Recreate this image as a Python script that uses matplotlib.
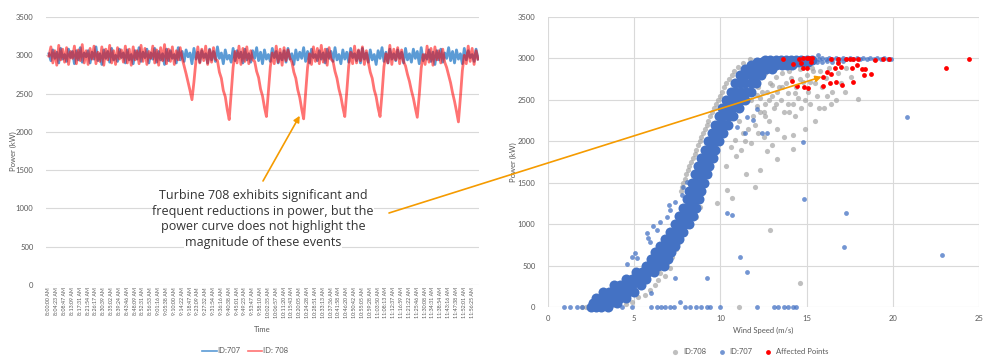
import matplotlib.pyplot as plt
import numpy as np

plt.rcParams["font.family"] = ["Lato", "DejaVu Sans"]

TXT = "#595959"
GRID = "#D9D9D9"
ORANGE = "#F59B00"

# ---------------- left chart: power time series ----------------
TIME_LABELS = [
    "8:00:00 AM", "8:04:23 AM", "8:08:47 AM", "8:13:09 AM", "8:17:31 AM", "8:21:54 AM",
    "8:26:17 AM", "8:30:39 AM", "8:35:02 AM", "8:39:24 AM", "8:43:46 AM", "8:48:09 AM",
    "8:52:31 AM", "8:56:53 AM", "9:01:16 AM", "9:05:38 AM", "9:10:00 AM", "9:14:22 AM",
    "9:18:47 AM", "9:23:09 AM", "9:27:32 AM", "9:31:54 AM", "9:36:16 AM", "9:40:38 AM",
    "9:45:01 AM", "9:49:23 AM", "9:53:47 AM", "9:58:10 AM", "10:02:35 AM", "10:06:57 AM",
    "10:11:20 AM", "10:15:43 AM", "10:20:05 AM", "10:24:28 AM", "10:28:51 AM", "10:33:13 AM",
    "10:37:36 AM", "10:41:58 AM", "10:46:20 AM", "10:50:42 AM", "10:55:05 AM", "10:59:28 AM",
    "11:03:50 AM", "11:08:13 AM", "11:12:37 AM", "11:16:59 AM", "11:21:22 AM", "11:25:46 AM",
    "11:30:08 AM", "11:34:31 AM", "11:38:54 AM", "11:43:16 AM", "11:47:38 AM", "11:52:01 AM",
    "11:56:25 AM",
]

ID707_KW = [
    3020, 2930, 3070, 2960, 3040, 2900, 3090, 2950, 3010, 2920, 3080, 2970, 3050, 2890, 3060, 2940, 3100, 2910, 3030, 2980,
    3060, 2900, 3040, 2950, 3110, 2930, 3020, 2880, 3070, 2960, 3050, 2910, 3090, 2940, 3000, 2920, 3080, 2970, 3030, 2900,
    3070, 2940, 3010, 2890, 3060, 2950, 3100, 2920, 3040, 2970, 3080, 2900, 3030, 2950, 3090, 2910, 3050, 2940, 3020, 2880,
    3080, 2930, 3060, 2960, 3010, 2900, 3100, 2940, 3050, 2920, 3070, 2980, 3030, 2890, 3090, 2950, 3040, 2910, 3060, 2970,
    3020, 2900, 3080, 2940, 3050, 2920, 3110, 2960, 3030, 2890, 3070, 2950, 3000, 2910, 3090, 2930, 3060, 2970, 3040, 2900,
    3080, 2940, 3020, 2910, 3060, 2960, 3100, 2930, 3040, 2890, 3070, 2950, 3010, 2920, 3090, 2970, 3050, 2900, 3030, 2940,
    3060, 2910, 3090, 2950, 3020, 2880, 3070, 2940, 3040, 2960, 3100, 2920, 3050, 2900, 3080, 2970, 3010, 2930, 3060, 2950,
    3030, 2900, 3080, 2960, 3050, 2920, 3100, 2940, 3010, 2890, 3070, 2950, 3040, 2910, 3090, 2970, 3020, 2930, 3060, 2900,
    3090, 2950, 3030, 2910, 3070, 2940, 3010, 2880, 3060, 2960, 3100, 2920, 3040, 2900, 3080, 2950, 3020, 2930, 3070, 2960,
    3040, 2900, 3090, 2940, 3020, 2910, 3080, 2960, 3050, 2890, 3100, 2930, 3010, 2950, 3070, 2920, 3040, 2880, 3060, 2940,
    3080, 2910, 3030, 2960, 3100, 2930, 3050, 2900, 3070, 2950, 3020, 2890, 3090, 2940, 3060, 2970, 3010, 2920, 3080, 2950,
]

ID708_KW = [
    2990, 3110, 2900, 3060, 2870, 3130, 2940, 3080, 2910, 3100, 2880, 3050, 2960, 3120, 2890, 3070, 2930, 3140, 2900, 3060,
    2880, 3090, 2950, 3120, 2890, 3040, 2920, 3110, 2870, 3080, 2940, 3130, 2900, 3060, 2880, 3100, 2950, 3070, 2910, 3120,
    2900, 3080, 2870, 3110, 2940, 3060, 2890, 3130, 2920, 3090, 2880, 3050, 2960, 3120, 2900, 3070, 2870, 3100, 2930, 3140,
    2890, 3080, 2920, 3110, 2880, 3060, 2940, 3100, 2960, 2860, 2760, 2650, 2540, 2420, 2650, 2920, 3110, 2900, 3080, 2930,
    3120, 2880, 3070, 2910, 3100, 2950, 2930, 2780, 2700, 2540, 2460, 2290, 2160, 2500, 2840, 3050, 2900, 3120, 2880, 3090,
    2920, 3110, 2890, 3060, 2940, 2920, 2790, 2710, 2560, 2470, 2320, 2200, 2520, 2850, 3030, 2890, 3120, 2910, 3080, 2870,
    3100, 2930, 3070, 2960, 2910, 2780, 2700, 2550, 2450, 2300, 2170, 2510, 2840, 3020, 2880, 3110, 2920, 3090, 2890, 3130,
    2910, 3080, 2870, 3100, 2950, 2920, 2790, 2700, 2560, 2460, 2320, 2200, 2520, 2860, 3040, 2890, 3120, 2900, 3070, 2930,
    3110, 2880, 3060, 2910, 2780, 2700, 2550, 2460, 2310, 2200, 2500, 2850, 3020, 2900, 3130, 2880, 3080, 2940, 3100, 2890,
    3070, 2920, 2860, 2750, 2660, 2540, 2440, 2310, 2190, 2480, 2830, 3010, 2880, 3120, 2910, 3090, 2870, 3110, 2940, 3060,
    2900, 3080, 2910, 2840, 2740, 2640, 2510, 2400, 2270, 2130, 2450, 2800, 3000, 2890, 3120, 2920, 3090, 2880, 3060, 2950,
]

# ---------------- right chart: power curve scatter ----------------
# dense ID:707 band, read as rows (power kW, wind speeds m/s)
BLUE_BAND_ROWS = [
    (0, [2.5, 2.8, 3.1, 3.5]),
    (50, [2.6, 2.9, 3.25, 3.6, 4.0]),
    (110, [2.8, 3.15, 3.5, 3.85, 4.2, 4.5]),
    (180, [3.2, 3.55, 3.9, 4.3, 4.65, 5.0]),
    (260, [3.8, 4.15, 4.5, 4.9, 5.4]),
    (340, [4.5, 4.85, 5.2, 5.7]),
    (420, [5.1, 5.45, 5.8, 6.15]),
    (500, [5.7, 6.05, 6.4, 6.7]),
    (580, [6.0, 6.3, 6.65, 6.95]),
    (660, [6.2, 6.5, 6.85, 7.15]),
    (740, [6.5, 6.8, 7.1, 7.35]),
    (820, [6.8, 7.1, 7.35, 7.6]),
    (900, [7.05, 7.35, 7.6, 7.85]),
    (1000, [7.35, 7.65, 7.95, 8.2]),
    (1100, [7.6, 7.9, 8.15, 8.4]),
    (1200, [7.85, 8.1, 8.35, 8.6]),
    (1300, [8.05, 8.3, 8.55, 8.75]),
    (1400, [8.2, 8.45, 8.7, 8.9]),
    (1500, [8.35, 8.6, 8.85, 9.05]),
    (1600, [8.5, 8.75, 9.0, 9.2]),
    (1700, [8.7, 8.95, 9.15, 9.35]),
    (1800, [8.9, 9.1, 9.35, 9.55]),
    (1900, [9.1, 9.3, 9.5, 9.7]),
    (2000, [9.3, 9.5, 9.7, 9.9]),
    (2100, [9.5, 9.7, 9.95, 10.15]),
    (2200, [9.7, 9.95, 10.2, 10.45]),
    (2300, [9.9, 10.15, 10.45, 10.75]),
    (2400, [10.1, 10.4, 10.7, 11.1]),
    (2500, [10.35, 10.65, 10.95, 11.2, 11.45]),
    (2600, [10.6, 10.9, 11.2, 11.5, 11.75]),
    (2700, [10.85, 11.15, 11.45, 11.75, 12.05]),
    (2800, [11.15, 11.45, 11.75, 12.05, 12.35]),
    (2870, [11.45, 11.75, 12.05, 12.35, 12.65, 13.0]),
    (2920, [11.75, 12.05, 12.35, 12.65, 12.95, 13.25, 13.55, 13.85, 14.15]),
    (2955, [12.1, 12.4, 12.7, 13.0, 13.3, 13.6, 13.9, 14.2, 14.5, 14.8, 15.1]),
    (2985, [12.6, 12.9, 13.2, 13.5, 13.8, 14.1, 14.4, 14.7, 15.0, 15.3]),
]

# sparse ID:707 points (wind m/s, power kW)
ID707_POINTS = [
    (0.9, 0), (1.3, 0), (1.7, 0), (2.0, 0), (4.3, 0), (4.85, 0), (6.0, 0), (6.3, 0),
    (6.55, 0), (6.8, 0), (7.05, 0), (7.3, 0), (7.95, 0), (8.25, 0), (8.6, 0), (8.9, 0),
    (9.2, 0), (9.4, 0), (10.0, 0), (12.1, 0), (13.1, 0), (13.35, 0), (13.7, 0), (13.95, 0),
    (14.2, 0), (14.4, 0),
    (14.87, 1303), (17.27, 1138), (17.15, 728), (22.83, 628), (20.84, 2289), (12.1, 2386),
    (11.9, 2257), (12.4, 2096), (12.7, 2104), (15.68, 3041), (10.37, 1131), (10.7, 1115),
    (11.14, 607), (11.52, 426), (9.2, 346), (7.66, 64), (7.37, 346), (6.0, 165),
    (11.52, 2297), (10.95, 2176), (11.43, 2096), (14.8, 1991),
    (5.72, 889), (5.82, 829), (5.92, 788), (6.3, 929), (6.5, 1030), (6.88, 1090),
    (7.08, 1171), (7.37, 1271), (7.76, 1352), (7.85, 1452), (8.04, 1512), (5.05, 648),
    (5.14, 588), (4.6, 520), (4.9, 600), (6.1, 980), (7.0, 1230),
    (15.7, 2995), (15.9, 3005), (16.1, 2990), (16.3, 3000), (16.5, 2995), (16.7, 3005),
    (16.9, 2990), (17.1, 3000), (17.3, 2995), (17.5, 3005), (17.7, 2990), (17.9, 3000),
    (18.1, 2995), (18.3, 3005), (18.5, 2990), (18.7, 3000), (18.9, 2995), (19.1, 3005),
    (19.3, 2990), (19.5, 3000), (19.7, 2995), (19.9, 2990),
    (15.6, 2960), (15.9, 2955), (16.2, 2965), (16.5, 2960), (16.8, 2965), (17.1, 2970),
]

# ID:708 points (wind m/s, power kW)
ID708_POINTS = [
    # left edge of the band
    (7.7, 1400), (7.78, 1450), (7.85, 1500), (7.93, 1550), (8.0, 1600), (8.1, 1650),
    (8.2, 1700), (8.3, 1750), (8.4, 1800), (8.5, 1850), (8.6, 1900), (8.7, 1950),
    (8.8, 2000), (8.9, 2050), (9.0, 2100), (9.1, 2150), (9.2, 2200), (9.3, 2250),
    (9.4, 2300), (9.5, 2350), (9.6, 2400), (9.73, 2450), (9.85, 2500), (9.98, 2550),
    (10.1, 2600), (10.23, 2650), (10.35, 2700), (10.5, 2750), (10.65, 2800), (10.8, 2850),
    (11.0, 2900), (11.3, 2950), (11.7, 2990),
    # lower-right edge of the band
    (3.9, 24), (4.5, 40), (4.9, 60), (5.2, 120), (5.6, 150), (5.9, 200), (6.2, 265),
    (6.4, 320), (6.5, 410), (6.8, 380), (6.9, 531), (7.07, 470), (7.2, 600), (7.4, 700),
    (7.6, 780), (7.9, 900), (8.2, 1000), (8.6, 1090), (8.8, 1210), (2.0, 0), (2.2, 0),
    # curtailed cloud under the plateau
    (11.9, 2300), (12.1, 2420), (12.3, 2520), (12.0, 2200), (12.5, 2350), (12.7, 2600),
    (12.6, 2450), (12.9, 2700), (12.8, 2250), (13.0, 2550), (13.2, 2780), (13.1, 2400),
    (13.4, 2650), (13.3, 2150), (13.6, 2820), (13.5, 2500), (13.8, 2700), (13.7, 2350),
    (14.0, 2850), (13.9, 2580), (14.2, 2450), (14.1, 2760), (14.4, 2650), (14.3, 2300),
    (14.6, 2870), (14.5, 2520), (14.8, 2720), (14.7, 2400), (15.0, 2800), (15.1, 2600),
    (15.3, 2880), (15.2, 2450), (15.5, 2700), (15.6, 2550), (15.8, 2850), (15.9, 2650),
    (16.1, 2760), (16.3, 2880), (16.5, 2600), (16.8, 2820), (17.0, 2700), (17.3, 2880),
    (17.6, 2780), (18.0, 2510), (12.2, 2650), (12.4, 2780), (12.9, 2880), (11.8, 2500),
    (12.2, 2100), (11.6, 2150), (11.4, 2000), (11.2, 1900), (10.9, 1820), (10.6, 1930),
    (11.8, 1980), (12.5, 2050), (13.0, 1950), (13.3, 1786), (14.2, 1907), (14.2, 2076),
    (13.7, 2050), (12.7, 1880), (15.5, 2250), (14.9, 2150), (16.0, 2400), (16.7, 2500),
    (10.85, 2015), (11.1, 2250), (11.3, 2100),
    (12.0, 2750), (12.2, 2880), (12.4, 2600), (12.6, 2820), (12.8, 2500), (13.0, 2680),
    (13.1, 2870), (13.3, 2600), (13.5, 2900), (12.1, 2560), (12.3, 2350), (12.6, 2300),
    (13.2, 2450), (13.6, 2650), (13.9, 2450), (14.0, 2350), (14.3, 2580), (14.6, 2750),
    (14.9, 2500), (15.2, 2720), (15.4, 2850), (15.7, 2400), (16.2, 2550), (16.4, 2450),
    (17.2, 2600),
    # stragglers
    (10.4, 1412), (10.7, 1316), (9.8, 1255), (12.0, 1448), (12.9, 929), (14.6, 290),
    (11.1, 0), (12.3, 1650), (11.5, 1600), (10.3, 1700),
]

AFFECTED_POINTS = [
    (13.65, 2989), (14.23, 2929), (14.58, 2989), (14.66, 2941), (14.81, 3001), (15.0, 3001),
    (15.16, 3001), (15.29, 3009), (14.81, 2889), (15.0, 2889), (15.24, 2953), (14.13, 2728),
    (14.42, 2667), (14.87, 2659), (15.1, 2639), (15.93, 2671), (16.16, 2832), (15.93, 2772),
    (16.42, 2808), (16.36, 2700), (16.7, 2715), (17.03, 2679), (16.65, 2889), (16.84, 2945),
    (16.98, 2897), (16.42, 2997), (16.8, 2997), (17.29, 2997), (17.52, 2989), (17.71, 2989),
    (18.0, 2993), (17.94, 2921), (17.61, 2881), (18.19, 2873), (18.39, 2873), (18.35, 2796),
    (18.72, 2816), (17.71, 2715), (18.97, 2977), (19.45, 2997), (19.8, 2993), (23.09, 2889),
    (24.44, 2997),
]

NOTE_LINES = [
    "Turbine 708 exhibits significant and",
    "frequent reductions in power, but the",
    "power curve does not highlight the",
    "magnitude of these events",
]

W, H = 1001, 359
fig = plt.figure(figsize=(W / 100, H / 100), dpi=100)
ax1 = fig.add_axes([46 / W, 1 - 285 / H, 433 / W, 268 / H])
ax2 = fig.add_axes([548 / W, 1 - 307 / H, 431 / W, 290 / H])

# --- left: time series ---
x = np.arange(len(ID707_KW))
ax1.plot(x, ID707_KW, color="#5B9BD5", lw=2.0, label="ID:707", zorder=2)
ax1.plot(x, ID708_KW, color="#FF0000", alpha=0.55, lw=2.0, label="ID: 708", zorder=3)
ax1.set_xlim(-1.5, len(x) - 0.5)
ax1.set_ylim(0, 3500)
ax1.set_yticks(range(0, 3501, 500))
ax1.set_xticks(x[::4])
ax1.set_xticklabels(TIME_LABELS, rotation=90, fontsize=3.8, color=TXT)
ax1.tick_params(axis="x", length=0, pad=1.5)
ax1.tick_params(axis="y", length=0, pad=9, labelsize=5.5, labelcolor=TXT)
ax1.grid(axis="y", color=GRID, lw=0.8)
ax1.set_axisbelow(True)
for s in ax1.spines.values():
    s.set_visible(False)
ax1.set_xlabel("Time", fontsize=5.5, color=TXT)
ax1.xaxis.set_label_coords(0.5, -0.152)
ax1.set_ylabel("Power (kW)", fontsize=5.5, color=TXT)
ax1.yaxis.set_label_coords(-0.067, 0.5)
leg1 = ax1.legend(loc="center", bbox_to_anchor=(0.46, -0.246), ncol=2, frameon=False,
                  fontsize=5.5, handlelength=1.9, handletextpad=0.15, columnspacing=0.9,
                  labelcolor=TXT)
for ln in leg1.get_lines():
    ln.set_linewidth(1.2)

# --- right: power curve ---
band_w = [w for p, ws in BLUE_BAND_ROWS for w in ws]
band_p = [p for p, ws in BLUE_BAND_ROWS for w in ws]
g_w, g_p = zip(*ID708_POINTS)
b_w, b_p = zip(*ID707_POINTS)
r_w, r_p = zip(*AFFECTED_POINTS)

ax2.scatter(g_w, g_p, s=14, color="#A5A5A5", alpha=0.7, lw=0, label="ID:708",
            zorder=2, clip_on=False)
ax2.scatter(band_w, band_p, s=52, color="#4472C4", lw=0, zorder=3, clip_on=False)
ax2.scatter(b_w, b_p, s=12, color="#4472C4", alpha=0.75, lw=0, label="ID:707",
            zorder=3, clip_on=False)
ax2.scatter(r_w, r_p, s=12, color="#FF0000", lw=0, label="Affected Points", zorder=4)
ax2.set_xlim(0, 25)
ax2.set_ylim(0, 3500)
ax2.set_xticks(range(0, 26, 5))
ax2.set_yticks(range(0, 3501, 500))
ax2.tick_params(length=0, labelsize=5.5, labelcolor=TXT)
ax2.tick_params(axis="x", pad=6)
ax2.tick_params(axis="y", pad=9)
ax2.grid(color=GRID, lw=0.8)
ax2.set_axisbelow(True)
for s in ax2.spines.values():
    s.set_visible(False)
ax2.set_xlabel("Wind Speed (m/s)", fontsize=5.5, color=TXT)
ax2.xaxis.set_label_coords(0.5, -0.07)
ax2.set_ylabel("Power (kW)", fontsize=5.5, color=TXT)
ax2.yaxis.set_label_coords(-0.072, 0.5)
ax2.legend(loc="center", bbox_to_anchor=(0.464, -0.155), ncol=3, frameon=False,
           fontsize=5.5, handletextpad=0.05, columnspacing=1.0, markerscale=1.0,
           labelcolor=TXT)

# --- callout text and arrows ---
for i, line in enumerate(NOTE_LINES):
    fig.text(263 / W, 1 - (196 + 15.4 * i) / H, line, ha="center", va="center",
             fontsize=9, color="#333333", family=["Open Sans", "DejaVu Sans"],
             bbox=dict(facecolor="white", edgecolor="none", pad=0.3))

arrow_kw = dict(arrowstyle="-|>", color=ORANGE, lw=1.2, mutation_scale=9,
                shrinkA=0, shrinkB=0)
ax1.annotate("", xy=(128, 2210), xycoords="data",
             xytext=(263 / W, 1 - 181 / H), textcoords="figure fraction",
             arrowprops=arrow_kw, zorder=10)
ax2.annotate("", xy=(15.88, 2779), xycoords="data",
             xytext=(389 / W, 1 - 213 / H), textcoords="figure fraction",
             arrowprops=arrow_kw, zorder=10)

fig.savefig("out.png", dpi=100)
